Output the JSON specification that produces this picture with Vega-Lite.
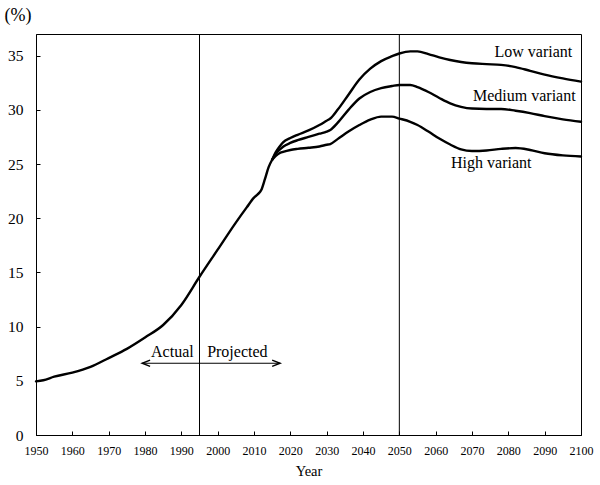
{
  "$schema": "https://vega.github.io/schema/vega-lite/v6.json",
  "width": 545,
  "height": 401,
  "autosize": "none",
  "padding": {"left": 36, "top": 34, "right": 19, "bottom": 50},
  "background": "white",
  "config": {
    "view": {"stroke": "black", "strokeWidth": 1},
    "font": "Liberation Serif",
    "axis": {"grid": false, "domainColor": "black", "tickColor": "black", "labelColor": "black", "titleColor": "black", "labelFont": "Liberation Serif", "titleFont": "Liberation Serif", "titleFontWeight": "normal"}
  },
  "layer": [
    {
      "data": {"values": [
        {"series": "Common", "year": 1950, "value": 4.95},
        {"series": "Common", "year": 1952, "value": 5.05},
        {"series": "Common", "year": 1955, "value": 5.38},
        {"series": "Common", "year": 1960, "value": 5.75},
        {"series": "Common", "year": 1965, "value": 6.28},
        {"series": "Common", "year": 1970, "value": 7.1},
        {"series": "Common", "year": 1975, "value": 7.95},
        {"series": "Common", "year": 1980, "value": 9.0},
        {"series": "Common", "year": 1985, "value": 10.15},
        {"series": "Common", "year": 1990, "value": 12.0},
        {"series": "Common", "year": 1995, "value": 14.6},
        {"series": "Common", "year": 2000, "value": 17.1},
        {"series": "Common", "year": 2005, "value": 19.6},
        {"series": "Common", "year": 2008, "value": 21.0},
        {"series": "Common", "year": 2010, "value": 21.9},
        {"series": "Common", "year": 2011, "value": 22.2},
        {"series": "Common", "year": 2012, "value": 22.6},
        {"series": "Common", "year": 2013, "value": 23.6},
        {"series": "Common", "year": 2014, "value": 24.7},
        {"series": "Common", "year": 2015, "value": 25.4},
        {"series": "Low", "year": 2015, "value": 25.4},
        {"series": "Low", "year": 2016, "value": 26.1},
        {"series": "Low", "year": 2017, "value": 26.6},
        {"series": "Low", "year": 2018, "value": 27.0},
        {"series": "Low", "year": 2020, "value": 27.4},
        {"series": "Low", "year": 2022, "value": 27.7},
        {"series": "Low", "year": 2025, "value": 28.1},
        {"series": "Low", "year": 2028, "value": 28.6},
        {"series": "Low", "year": 2030, "value": 29.0},
        {"series": "Low", "year": 2031, "value": 29.2},
        {"series": "Low", "year": 2033, "value": 30.0},
        {"series": "Low", "year": 2036, "value": 31.4},
        {"series": "Low", "year": 2039, "value": 32.8},
        {"series": "Low", "year": 2042, "value": 33.8},
        {"series": "Low", "year": 2045, "value": 34.5},
        {"series": "Low", "year": 2048, "value": 34.95},
        {"series": "Low", "year": 2050, "value": 35.2},
        {"series": "Low", "year": 2053, "value": 35.4},
        {"series": "Low", "year": 2055, "value": 35.4},
        {"series": "Low", "year": 2058, "value": 35.15},
        {"series": "Low", "year": 2061, "value": 34.85},
        {"series": "Low", "year": 2064, "value": 34.6},
        {"series": "Low", "year": 2067, "value": 34.42},
        {"series": "Low", "year": 2070, "value": 34.3},
        {"series": "Low", "year": 2074, "value": 34.22},
        {"series": "Low", "year": 2078, "value": 34.15},
        {"series": "Low", "year": 2082, "value": 33.95},
        {"series": "Low", "year": 2086, "value": 33.6},
        {"series": "Low", "year": 2090, "value": 33.25},
        {"series": "Low", "year": 2095, "value": 32.9},
        {"series": "Low", "year": 2100, "value": 32.6},
        {"series": "Medium", "year": 2015, "value": 25.4},
        {"series": "Medium", "year": 2016, "value": 25.95},
        {"series": "Medium", "year": 2017, "value": 26.3},
        {"series": "Medium", "year": 2018, "value": 26.6},
        {"series": "Medium", "year": 2020, "value": 26.95},
        {"series": "Medium", "year": 2022, "value": 27.2},
        {"series": "Medium", "year": 2025, "value": 27.5},
        {"series": "Medium", "year": 2028, "value": 27.8},
        {"series": "Medium", "year": 2030, "value": 28.0},
        {"series": "Medium", "year": 2031, "value": 28.15},
        {"series": "Medium", "year": 2033, "value": 28.8},
        {"series": "Medium", "year": 2036, "value": 30.0},
        {"series": "Medium", "year": 2039, "value": 31.05},
        {"series": "Medium", "year": 2042, "value": 31.65},
        {"series": "Medium", "year": 2045, "value": 32.0},
        {"series": "Medium", "year": 2048, "value": 32.2},
        {"series": "Medium", "year": 2050, "value": 32.3},
        {"series": "Medium", "year": 2053, "value": 32.3},
        {"series": "Medium", "year": 2055, "value": 32.1},
        {"series": "Medium", "year": 2058, "value": 31.65},
        {"series": "Medium", "year": 2061, "value": 31.1},
        {"series": "Medium", "year": 2064, "value": 30.6},
        {"series": "Medium", "year": 2067, "value": 30.28},
        {"series": "Medium", "year": 2070, "value": 30.12},
        {"series": "Medium", "year": 2074, "value": 30.08},
        {"series": "Medium", "year": 2078, "value": 30.08},
        {"series": "Medium", "year": 2082, "value": 29.92},
        {"series": "Medium", "year": 2086, "value": 29.7},
        {"series": "Medium", "year": 2090, "value": 29.42},
        {"series": "Medium", "year": 2095, "value": 29.12},
        {"series": "Medium", "year": 2100, "value": 28.9},
        {"series": "High", "year": 2015, "value": 25.4},
        {"series": "High", "year": 2016, "value": 25.75},
        {"series": "High", "year": 2017, "value": 26.0},
        {"series": "High", "year": 2018, "value": 26.12},
        {"series": "High", "year": 2020, "value": 26.3},
        {"series": "High", "year": 2022, "value": 26.4},
        {"series": "High", "year": 2025, "value": 26.5},
        {"series": "High", "year": 2028, "value": 26.62},
        {"series": "High", "year": 2030, "value": 26.78},
        {"series": "High", "year": 2031, "value": 26.85},
        {"series": "High", "year": 2033, "value": 27.3},
        {"series": "High", "year": 2036, "value": 28.0},
        {"series": "High", "year": 2039, "value": 28.6},
        {"series": "High", "year": 2042, "value": 29.1},
        {"series": "High", "year": 2045, "value": 29.38},
        {"series": "High", "year": 2048, "value": 29.38},
        {"series": "High", "year": 2050, "value": 29.2},
        {"series": "High", "year": 2053, "value": 28.9},
        {"series": "High", "year": 2055, "value": 28.6},
        {"series": "High", "year": 2058, "value": 28.0},
        {"series": "High", "year": 2061, "value": 27.35},
        {"series": "High", "year": 2064, "value": 26.8},
        {"series": "High", "year": 2067, "value": 26.35},
        {"series": "High", "year": 2070, "value": 26.2},
        {"series": "High", "year": 2074, "value": 26.25},
        {"series": "High", "year": 2078, "value": 26.4},
        {"series": "High", "year": 2082, "value": 26.48},
        {"series": "High", "year": 2086, "value": 26.3},
        {"series": "High", "year": 2090, "value": 26.0},
        {"series": "High", "year": 2095, "value": 25.8},
        {"series": "High", "year": 2100, "value": 25.7}
      ]},
      "mark": {"type": "line", "color": "black", "strokeWidth": 2.4, "interpolate": "monotone", "strokeCap": "round", "strokeJoin": "round"},
      "encoding": {
        "x": {"field": "year", "type": "quantitative", "scale": {"domain": [1950, 2100], "nice": false, "zero": false},
          "axis": {"title": "Year", "values": [1950, 1960, 1970, 1980, 1990, 2000, 2010, 2020, 2030, 2040, 2050, 2060, 2070, 2080, 2090, 2100], "tickCount": 20, "format": "d", "labelFontSize": 12, "labelOverlap": false, "titleFontSize": 14.5, "tickSize": -4, "labelPadding": 14, "titlePadding": 8, "labelFlush": false}},
        "y": {"field": "value", "type": "quantitative", "scale": {"domain": [0, 37], "nice": false},
          "axis": {"title": "(%)", "values": [0, 5, 10, 15, 20, 25, 30, 35], "tickCount": 10, "labelFontSize": 15.5, "labelOverlap": false, "tickSize": -4, "labelPadding": 17, "titleAngle": 0, "titleAlign": "left", "titleBaseline": "middle", "titleX": -32, "titleY": -19, "titleFontSize": 18}},
        "detail": {"field": "series", "type": "nominal"}
      }
    },
    {
      "data": {"values": [{"year": 1995}, {"year": 2050}]},
      "mark": {"type": "rule", "color": "black", "strokeWidth": 1},
      "encoding": {"x": {"field": "year", "type": "quantitative"}}
    },
    {
      "data": {"values": [{"start": 1979.2, "end": 2017.2, "level": 6.62}]},
      "mark": {"type": "rule", "color": "black", "strokeWidth": 1.2},
      "encoding": {
        "x": {"field": "start", "type": "quantitative"},
        "x2": {"field": "end"},
        "y": {"field": "level", "type": "quantitative"}
      }
    },
    {
      "data": {"values": [{"tip": 1979.2, "level": 6.62}]},
      "mark": {"type": "point", "shape": "M4,-1.6L0,0L4,1.6", "size": 16, "filled": false, "stroke": "black", "strokeWidth": 1.4, "opacity": 1},
      "encoding": {
        "x": {"field": "tip", "type": "quantitative"},
        "y": {"field": "level", "type": "quantitative"}
      }
    },
    {
      "data": {"values": [{"tip": 2017.2, "level": 6.62}]},
      "mark": {"type": "point", "shape": "M-4,-1.6L0,0L-4,1.6", "size": 16, "filled": false, "stroke": "black", "strokeWidth": 1.4, "opacity": 1},
      "encoding": {
        "x": {"field": "tip", "type": "quantitative"},
        "y": {"field": "level", "type": "quantitative"}
      }
    },
    {
      "data": {"values": [{"label": "Actual", "year": 1993.4, "value": 7.23}]},
      "mark": {"type": "text", "align": "right", "baseline": "alphabetic", "fontSize": 16, "font": "Liberation Serif", "color": "black"},
      "encoding": {
        "x": {"field": "year", "type": "quantitative"},
        "y": {"field": "value", "type": "quantitative"},
        "text": {"field": "label"}
      }
    },
    {
      "data": {"values": [{"label": "Projected", "year": 1997.1, "value": 7.23}]},
      "mark": {"type": "text", "align": "left", "baseline": "alphabetic", "fontSize": 16, "font": "Liberation Serif", "color": "black"},
      "encoding": {
        "x": {"field": "year", "type": "quantitative"},
        "y": {"field": "value", "type": "quantitative"},
        "text": {"field": "label"}
      }
    },
    {
      "data": {"values": [
        {"label": "Low variant", "year": 2086.9, "value": 34.9},
        {"label": "Medium variant", "year": 2084.4, "value": 30.78},
        {"label": "High variant", "year": 2075.3, "value": 24.63}
      ]},
      "mark": {"type": "text", "align": "center", "baseline": "alphabetic", "fontSize": 16, "font": "Liberation Serif", "color": "black"},
      "encoding": {
        "x": {"field": "year", "type": "quantitative"},
        "y": {"field": "value", "type": "quantitative"},
        "text": {"field": "label"}
      }
    }
  ]
}
